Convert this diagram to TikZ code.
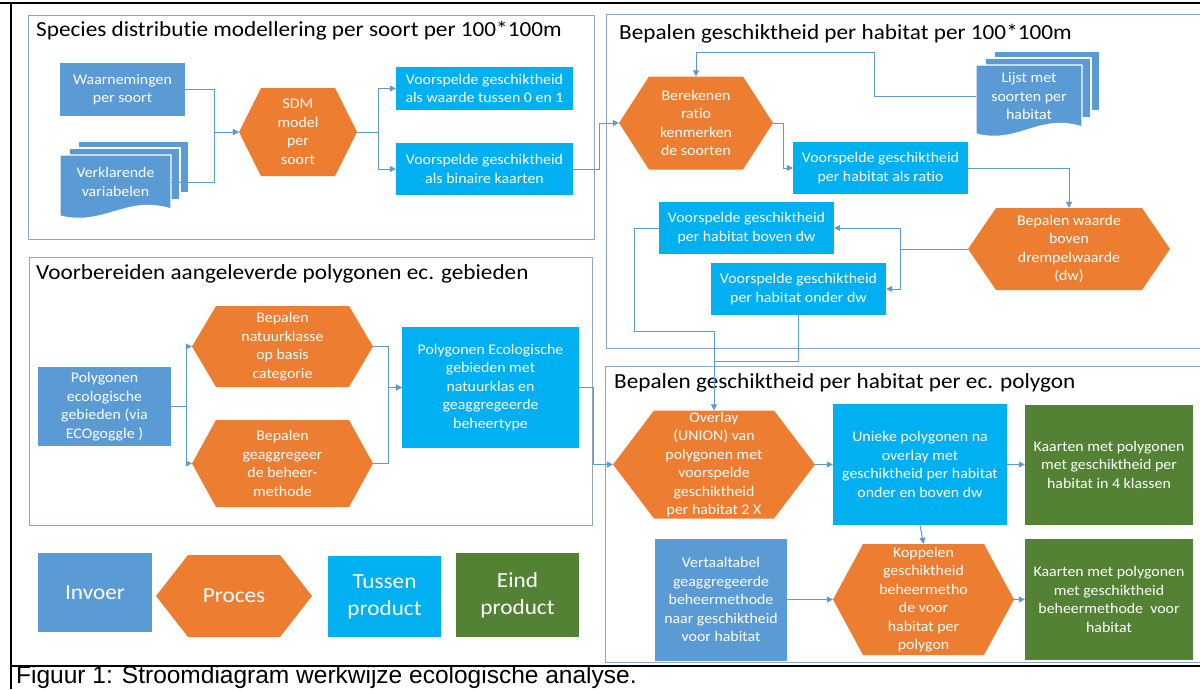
\documentclass[tikz,border=0pt]{standalone}
\usepackage{fontspec}
\setmainfont{Carlito}[FakeStretch=1.08, Ligatures=NoCommon]
\newfontfamily\capfont{Liberation Sans}
\usetikzlibrary{arrows.meta}

\definecolor{invoerblauw}{HTML}{5B9BD5}
\definecolor{procesoranje}{HTML}{ED7D31}
\definecolor{tussenblauw}{HTML}{00B0F0}
\definecolor{eindgroen}{HTML}{548235}
\definecolor{kader}{HTML}{8FA5C0}
\definecolor{lijnkleur}{HTML}{5B9BD5}

\newcommand{\boxfont}{\fontsize{14.7}{18.5}\selectfont}
\newcommand{\titelfont}{\fontsize{21.5}{25}\selectfont}
\newcommand{\legendfont}{\fontsize{21.5}{27}\selectfont}

% name, cx, cy, width, height, slant, text
\newcommand{\hexnode}[7]{%
  \fill[procesoranje] ({#2-#4/2},#3) -- ({#2-#4/2+#6},{#3-#5/2}) -- ({#2+#4/2-#6},{#3-#5/2})
    -- ({#2+#4/2},#3) -- ({#2+#4/2-#6},{#3+#5/2}) -- ({#2-#4/2+#6},{#3+#5/2}) -- cycle;
  \node[hextekst, minimum width=#4, minimum height=#5] (#1) at (#2,#3) {#7};}

% name, left, top, width, height, text
\newcommand{\docstapel}[6]{%
  \foreach \k in {2,1} {\fill[invoerblauw, draw=white, line width=1.2pt]
    ({#2+9*\k},{#3-7*\k}) rectangle ({#2+#4+9*\k},{#3+#5-12-7*\k});}
  \fill[invoerblauw, draw=white, line width=1.2pt] (#2,#3) -- ({#2+#4},#3) -- ({#2+#4},{#3+#5-10})
    .. controls ({#2+0.6*#4},{#3+#5-24}) and ({#2+0.4*#4},{#3+#5+8}) .. (#2,{#3+#5-3}) -- cycle;
  \node[doctekst, minimum width=#4, minimum height={#5-10}] (#1) at ({#2+#4/2},{#3+#5/2-5}) {#6};}

\begin{document}
\begin{tikzpicture}[x=1pt, y=-1pt, >={Triangle[length=6pt,width=6pt]},
  every node/.style={align=center, inner sep=0pt, text=white, font=\boxfont},
  invoer/.style={rectangle, fill=invoerblauw},
  tussen/.style={rectangle, fill=tussenblauw},
  eind/.style={rectangle, fill=eindgroen},
  hextekst/.style={rectangle},
  doctekst/.style={rectangle},
  paneel/.style={draw=kader, line width=0.9pt},
  titel/.style={anchor=west, text=black, font=\titelfont},
  legenda/.style={font=\legendfont},
  lijn/.style={draw=lijnkleur, line width=1pt}]
\useasboundingbox (0,0) rectangle (1200,689);
\clip (0,0) rectangle (1200,689);
\fill[white] (0,0) rectangle (1200,689);

\draw[line width=1.5pt] (0,3) -- (1200,3);
\draw[line width=1.5pt] (11,3) -- (11,689);
\draw[line width=1.5pt] (11,666) -- (1200,666);
\node[anchor=base west, text=black, font=\capfont\fontsize{24.5}{28}\selectfont] (bijschrift) at (16,683) {Figuur 1: Stroomdiagram werkwijze ecologische analyse.};

\draw[paneel] (28,15) rectangle (594,239);
\node[titel] (t1) at (36,31) {Species distributie modellering per soort per 100*100m};
\node[invoer, minimum width=125, minimum height=53] (waarn) at (122.5,89.5) {Waarnemingen\\per soort};
\docstapel{verkl}{60}{155}{111}{64}{Verklarende\\variabelen}
\hexnode{sdm}{298}{132}{118}{88}{22}{SDM\\model\\per\\soort}
\node[tussen, minimum width=177, minimum height=43] (waarde) at (484.5,88.5) {Voorspelde geschiktheid\\als waarde tussen 0 en 1};
\node[tussen, minimum width=177, minimum height=52] (binair) at (484.5,169) {Voorspelde geschiktheid\\als binaire kaarten};

\draw[paneel] (606,14) rectangle (1215,348);
\node[titel] (t2) at (619,34) {Bepalen geschiktheid per habitat per 100*100m};
\hexnode{bereken}{696}{123}{154}{93}{30}{Berekenen\\ratio\\kenmerken\\de soorten}
\docstapel{lijst}{976}{65}{106}{72}{Lijst met\\soorten per\\habitat}
\node[tussen, minimum width=175, minimum height=52] (ratio) at (880.5,168) {Voorspelde geschiktheid\\per habitat als ratio};
\hexnode{drempel}{1069}{249}{202}{82}{28}{Bepalen waarde\\boven\\drempelwaarde\\(dw)}
\node[tussen, minimum width=175, minimum height=52] (boven) at (746.5,228) {Voorspelde geschiktheid\\per habitat boven dw};
\node[tussen, minimum width=175, minimum height=52] (onder) at (798.5,289) {Voorspelde geschiktheid\\per habitat onder dw};

\draw[paneel] (29,257) rectangle (592,525);
\node[titel] (t3) at (36,274) {Voorbereiden aangeleverde polygonen ec. gebieden};
\node[invoer, minimum width=133, minimum height=79] (polyeco) at (104.5,406.5) {Polygonen\\ecologische\\gebieden (via\\ECOgoggle )};
\hexnode{natuur}{282.5}{346.5}{181}{81}{24}{Bepalen\\natuurklasse\\op basis\\categorie}
\hexnode{beheer}{282.5}{463.5}{181}{87}{24}{Bepalen\\geaggregeer\\de beheer-\\methode}
\node[tussen, minimum width=177, minimum height=121] (polyint) at (490.5,387.5) {Polygonen Ecologische\\gebieden met\\natuurklas en\\geaggregeerde\\beheertype};

\draw[paneel] (605,366) rectangle (1215,662);
\node[titel] (t4) at (614,383) {Bepalen geschiktheid per habitat per ec. polygon};
\hexnode{overlay}{714}{464.5}{202}{108}{41}{Overlay\\(UNION) van\\polygonen met\\voorspelde\\geschiktheid\\per habitat 2 X}
\node[tussen, minimum width=174, minimum height=121] (unieke) at (920,464.5) {Unieke polygonen na\\overlay met\\geschiktheid per habitat\\onder en boven dw};
\node[eind, minimum width=168, minimum height=120] (kaart1) at (1109,464.5) {Kaarten met polygonen\\met geschiktheid per\\habitat in 4 klassen};
\node[invoer, minimum width=132, minimum height=122] (vertaal) at (721,599.5) {Vertaaltabel\\geaggregeerde\\beheermethode\\naar geschiktheid\\voor habitat};
\hexnode{koppel}{923.5}{599.5}{181}{111}{30}{Koppelen\\geschiktheid\\beheermetho\\de voor\\habitat per\\polygon}
\node[eind, minimum width=168, minimum height=121] (kaart2) at (1109,599.5) {Kaarten met polygonen\\met geschiktheid\\beheermethode\ \ voor\\habitat};

\node[invoer, legenda, minimum width=114, minimum height=79] (lginvoer) at (95,592.5) {Invoer};
\hexnode{lgproces}{234}{596}{156}{82}{32}{\legendfont Proces}
\node[tussen, legenda, minimum width=113, minimum height=81] (lgtussen) at (384.5,596.5) {Tussen\\product};
\node[eind, legenda, minimum width=123, minimum height=84] (lgeind) at (517.5,595) {Eind\\product};

\draw[lijn,->] (waarn.east) -| ([xshift=-24pt]sdm.west) -- (sdm.west);
\draw[lijn,->] (verkl.east) -| ([xshift=-24pt]sdm.west) -- (sdm.west);
\draw[lijn,->] (sdm.east) -- ++(21,0) |- (waarde.west);
\draw[lijn,->] (sdm.east) -- ++(21,0) |- (binair.west);
\draw[lijn,->] (binair.east) -- ++(26,0) |- (bereken.west);

\draw[lijn,->] (lijst.west) -- ++(-101,0) |- ([yshift=24pt]bereken.north) -- (bereken.north);
\draw[lijn,->] (bereken.east) -- ++(10,0) |- (ratio.west);
\draw[lijn,->] (ratio.east) -| (drempel.north);
\draw[lijn,->] (drempel.west) -- ++(-67,0) |- (boven.east);
\draw[lijn,->] (drempel.west) -- ++(-67,0) |- (onder.east);
\draw[lijn,->] (boven.west) -- ++(-24,0) |- ([yshift=79pt]overlay.north) -- (overlay.north);
\draw[lijn] (onder.south) |- ([yshift=49pt]overlay.north);

\draw[lijn,->] (polyeco.east) -- ++(15,0) |- (natuur.west);
\draw[lijn,->] (polyeco.east) -- ++(15,0) |- (beheer.west);
\draw[lijn,->] (natuur.east) -- ++(15,0) |- (polyint.west);
\draw[lijn,->] (beheer.east) -- ++(15,0) |- (polyint.west);
\draw[lijn,->] (polyint.east) -- ++(14,0) |- (overlay.west);

\draw[lijn,->] (overlay.east) -- (unieke.west);
\draw[lijn,->] (unieke.east) -- (kaart1.west);
\draw[lijn,->] (unieke.south) -- (koppel.north);
\draw[lijn,->] (vertaal.east) -- (koppel.west);
\draw[lijn,->] (koppel.east) -- (kaart2.west);
\end{tikzpicture}
\end{document}
